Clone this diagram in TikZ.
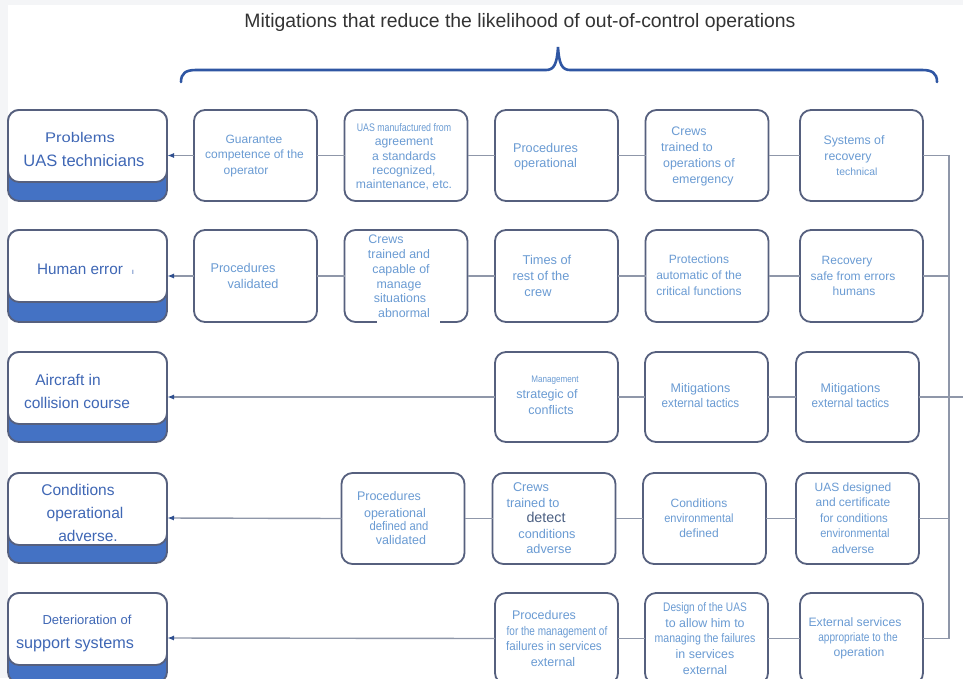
\documentclass[tikz,border=0pt]{standalone}
\usepackage{fontspec}
\setmainfont{Liberation Sans}
\usepackage{graphicx}
\usetikzlibrary{arrows.meta}
\definecolor{bggray}{HTML}{F4F5F7}
\definecolor{tblue}{HTML}{6A9BD3}
\definecolor{lblue}{HTML}{3F67B5}
\definecolor{bandblue}{HTML}{4472C4}
\definecolor{bord}{HTML}{56607E}
\definecolor{conn}{HTML}{8F97A9}
\definecolor{arrowc}{HTML}{2F4F8F}
\definecolor{bracec}{HTML}{2F56A3}
\definecolor{titlec}{HTML}{333333}
\definecolor{darkt}{HTML}{4B5F82}
\newcommand\cx[2]{\scalebox{#1}[1]{#2}}
\newcommand\fs[1]{\fontsize{#1}{#1}\selectfont}
\newcommand\sh[1]{\hspace*{#1pt}}
\begin{document}
\begin{tikzpicture}[x=1pt,y=-1pt,
  mbox/.style={draw=bord, line width=1.8pt, rounded corners=11pt, fill=white, minimum width=123pt, minimum height=91pt, inner sep=0pt, outer sep=0pt},
  lbox/.style={draw=bord, line width=1.8pt, rounded corners=11pt, fill=bandblue, minimum width=159pt, minimum height=91pt, inner sep=0pt, outer sep=0pt},
  lwhite/.style={draw=bord, line width=1.8pt, rounded corners=11pt, fill=white},
  cline/.style={draw=conn, line width=1.4pt},
  arr/.style={draw=conn, line width=1.4pt, -{Latex[length=7pt,width=5pt,color=arrowc]}},
  txt/.style={text=tblue, align=center, inner sep=0pt, font=\fontsize{12}{15.5}\selectfont},
  ltxt/.style={text=lblue, align=center, inner sep=0pt},
  ttl/.style={text=titlec, inner sep=0pt, font=\fontsize{19.4}{20}\selectfont}
]
\useasboundingbox (0,0) rectangle (963,678);
\begin{scope}
\clip (0,0) rectangle (963,678);
\fill[bggray] (0,0) rectangle (963,678);
\fill[white] (8,5) rectangle (963,678);

% title and brace
\node[ttl] (title) at (520,22) {Mitigations that reduce the likelihood of out-of-control operations};
\draw[bracec, line width=2.6pt, line cap=round] (181,82) .. controls (181,73) and (186,70) .. (196,70) -- (546,70) .. controls (554,70) and (557,64) .. (558,47) .. controls (559,64) and (562,70) .. (570,70) -- (922,70) .. controls (932,70) and (937,73) .. (937,82);

% left boxes
\node[lbox] (L1) at (87.5,155.5) {};
\node[lbox, minimum height=92pt] (L2) at (87.5,276) {};
\node[lbox, minimum height=90pt] (L3) at (87.5,397) {};
\node[lbox, minimum height=90pt] (L4) at (87.5,518) {};
\node[lbox, minimum height=90pt] (L5) at (87.5,638) {};
\foreach \n in {L1,L2,L3,L4,L5}
  \draw[lwhite] (\n.north west) rectangle ([yshift=-72pt]\n.north east);

% row 1
\node[mbox] (b12) at (255.5,155.5) {};
\node[mbox] (b13) at (406,155.5) {};
\node[mbox] (b14) at (556.5,155.5) {};
\node[mbox] (b15) at (707,155.5) {};
\node[mbox] (b16) at (861.5,155.5) {};
% row 2
\node[mbox, minimum height=92pt] (b22) at (255.5,276) {};
\node[mbox, minimum height=92pt] (b23) at (406,276) {};
\node[mbox, minimum height=92pt] (b24) at (556.5,276) {};
\node[mbox, minimum height=92pt] (b25) at (707,276) {};
\node[mbox, minimum height=92pt] (b26) at (861.5,276) {};
% row 3
\node[mbox, minimum height=90pt] (b33) at (556.5,397) {};
\node[mbox, minimum height=90pt] (b34) at (706.5,397) {};
\node[mbox, minimum height=90pt] (b35) at (857.5,397) {};
% row 4
\node[mbox] (b42) at (403,518.5) {};
\node[mbox] (b43) at (554,518.5) {};
\node[mbox] (b44) at (704.5,518.5) {};
\node[mbox] (b45) at (857.5,518.5) {};
% row 5
\node[mbox] (b53) at (556.5,638.5) {};
\node[mbox] (b54) at (706.5,638.5) {};
\node[mbox] (b55) at (861.5,638.5) {};

\fill[white] (377,319.5) rectangle (440,324.5);

% bus coordinates
\coordinate (v1) at (949,155.5);
\coordinate (v2) at (949,276);
\coordinate (v4) at (949,518.5);
\coordinate (v5) at (949,638.5);
\coordinate (vout) at (963,397);

% connectors
\draw[arr] (b12.west) -- (L1.east);
\draw[cline] (b12.east) -- (b13.west);
\draw[cline] (b13.east) -- (b14.west);
\draw[cline] (b14.east) -- (b15.west);
\draw[cline] (b15.east) -- (b16.west);
\draw[arr] (b22.west) -- (L2.east);
\draw[cline] (b22.east) -- (b23.west);
\draw[cline] (b23.east) -- (b24.west);
\draw[cline] (b24.east) -- (b25.west);
\draw[cline] (b25.east) -- (b26.west);
\draw[arr] (b33.west) -- (L3.east);
\draw[cline] (b33.east) -- (b34.west);
\draw[cline] (b34.east) -- (b35.west);
\draw[arr] (b42.west) -- (L4.east);
\draw[cline] (b42.east) -- (b43.west);
\draw[cline] (b43.east) -- (b44.west);
\draw[cline] (b44.east) -- (b45.west);
\draw[arr] (b53.west) -- (L5.east);
\draw[cline] (b53.east) -- (b54.west);
\draw[cline] (b54.east) -- (b55.west);
\draw[cline] (b16.east) -- (v1) -- (v5) -- (b55.east);
\draw[cline] (b26.east) -- (v2);
\draw[cline] (b35.east) -- (vout);
\draw[cline] (b45.east) -- (v4);

% left texts
\node[ltxt, font=\fontsize{16.5}{24}\selectfont] (tL1) at (82,150) {\sh{-4}{\fs{14}\cx{1.18}{Problems}}\\\sh{4}UAS technicians};
\node[ltxt, font=\fontsize{15.3}{20}\selectfont] (tL2) at (80,269) {Human error\rlap{\hspace{9pt}\fs{8}ı}};
\node[ltxt, font=\fontsize{15.5}{23}\selectfont] (tL3) at (72.5,391) {\sh{-9}Aircraft in\\\sh{9}collision course};
\node[ltxt, font=\fontsize{15.5}{23}\selectfont] (tL4) at (84,513) {\sh{-12}Conditions\\\sh{2}operational\\\sh{8}adverse.};
\node[ltxt, font=\fontsize{16.2}{24}\selectfont] (tL5) at (81,633) {\sh{12}{\fs{13}Deterioration of}\\\sh{-12}support systems};

% row 1 texts
\node[txt] (t12) at (252,156) {\sh{4}Guarantee\\\sh{5}competence of the\\\sh{-12}operator};
\node[txt, font=\fontsize{12.2}{14.3}\selectfont] (t13) at (404,157) {{\fs{11}\cx{0.8}{UAS manufactured from}}\\agreement\\a standards\\recognized,\\maintenance, etc.};
\node[txt, font=\fontsize{12.7}{15}\selectfont] (t14) at (545.5,157) {Procedures\\operational};
\node[txt, font=\fontsize{12.4}{16}\selectfont] (t15) at (694.5,156.5) {\sh{-11}Crews\\\sh{-15}trained to\\\sh{9}operations of\\\sh{17}emergency};
\node[txt, font=\fontsize{12.3}{15.5}\selectfont] (t16) at (853,156) {\sh{2}Systems of\\\sh{-10}recovery\\\sh{8}{\fs{10.4}technical}};
% row 2 texts
\node[txt, font=\fontsize{12.7}{16}\selectfont] (t22) at (248,275.5) {\sh{-10}Procedures\\\sh{10}validated};
\node[txt, font=\fontsize{12.4}{14.8}\selectfont] (t23) at (399,276.5) {\sh{-26}Crews\\trained and\\\sh{4}capable of\\manage\\\sh{2}situations\\\sh{10}abnormal};
\node[txt, font=\fontsize{12.8}{16}\selectfont] (t24) at (542,275.5) {\sh{10}Times of\\\sh{-2}rest of the\\\sh{-8}crew};
\node[txt, font=\fontsize{12}{16}\selectfont] (t25) at (699,275.5) {Protections\\automatic of the\\critical functions};
\node[txt, font=\fontsize{12}{15.5}\selectfont] (t26) at (851,276) {\sh{-8}Recovery\\\sh{4}safe from errors\\\sh{6}humans};
% row 3 texts
\node[txt, font=\fontsize{12.5}{16}\selectfont] (t33) at (550,395.5) {\sh{10}{\fs{9.5}\cx{0.85}{Management}}\\\sh{-6}strategic of\\\sh{2}conflicts};
\node[txt, font=\fontsize{12.5}{15}\selectfont] (t34) at (700.5,396) {Mitigations\\\cx{0.93}{external tactics}};
\node[txt, font=\fontsize{12.5}{15}\selectfont] (t35) at (850.5,396) {Mitigations\\\cx{0.93}{external tactics}};
% row 4 texts
\node[txt, font=\fontsize{12.5}{13.2}\selectfont] (t42) at (396,518) {\sh{-14}Procedures\\[3.8pt]\sh{-2}operational\\\sh{6}\cx{0.9}{defined and}\\\sh{10}validated};
\node[txt, font=\fontsize{12.7}{15.5}\selectfont] (t43) at (541,518.5) {\sh{-20}Crews\\\sh{-16}trained to\\\sh{10}{\fs{14.3}\color{darkt}detect}\\\sh{12}conditions\\\sh{16}adverse};
\node[txt, font=\fontsize{12}{15}\selectfont] (t44) at (699,518) {Conditions\\\cx{0.92}{environmental}\\defined};
\node[txt, font=\fontsize{12}{15.5}\selectfont] (t45) at (853,518) {UAS designed\\and certificate\\\sh{2}\cx{0.95}{for conditions}\\\sh{4}\cx{0.92}{environmental}\\adverse};
% row 5 texts
\node[txt, font=\fontsize{12.5}{15.7}\selectfont] (t53) at (552,638.5) {\sh{-16}Procedures\\\sh{10}\cx{0.8}{for the management of}\\\sh{4}\cx{0.93}{failures in services}\\\sh{2}external};
\node[txt, font=\fontsize{12.4}{15.75}\selectfont] (t54) at (705,638.5) {\cx{0.82}{Design of the UAS}\\to allow him to\\\cx{0.85}{managing the failures}\\in services\\external};
\node[txt, font=\fontsize{12.2}{15}\selectfont] (t55) at (857,638) {\sh{-4}External services\\\sh{2}\cx{0.83}{appropriate to the}\\\sh{4}operation};
\end{scope}
\end{tikzpicture}
\end{document}
